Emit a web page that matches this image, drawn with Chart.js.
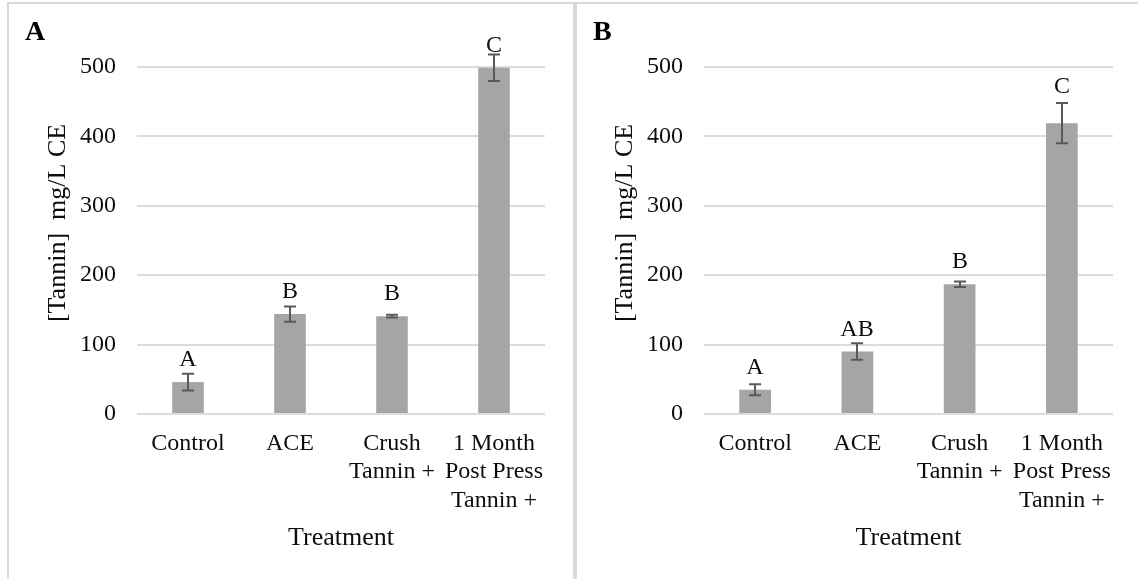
<!DOCTYPE html>
<html>
<head>
<meta charset="utf-8">
<script src="https://cdn.jsdelivr.net/npm/chart.js@4.4.1/dist/chart.umd.min.js"></script>
<style>
  html, body { margin: 0; padding: 0; background: #fff; }
  body { position: relative; width: 1138px; height: 579px; overflow: hidden; }
  .frame { position: absolute; top: 2px; height: 640px; border: 2px solid #d9d9d9; box-sizing: border-box; }
  #frameA { left: 7px; width: 568px; }
  #frameB { left: 575px; width: 600px; }
  .tag { position: absolute; top: 17px; font: bold 28px 'Liberation Serif', 'Times New Roman', serif; line-height: 28px; color: #000; }
  #tagA { left: 25px; }
  #tagB { left: 593px; }
  canvas { position: absolute; top: 4px; }
  #chartA { left: 9px; }
  #chartB { left: 577px; }
</style>
</head>
<body>
<div class="frame" id="frameA"></div>
<div class="frame" id="frameB"></div>
<canvas id="chartA" width="564" height="575"></canvas>
<canvas id="chartB" width="561" height="575"></canvas>
<div class="tag" id="tagA">A</div>
<div class="tag" id="tagB">B</div>
<script>
// Treatments on the x axis (multi-line labels)
const categories = [['Control'], ['ACE'], ['Crush', 'Tannin +'], ['1 Month', 'Post Press', 'Tannin +']];
const yTicks = [0, 100, 200, 300, 400, 500];

// Panel A: tannin concentration (mg/L CE), error and significance groups
const tanninA = [46, 144, 141, 499];
const errorA = [12, 11, 2, 19];
const lettersA = ['A', 'B', 'B', 'C'];

// Panel B
const tanninB = [35, 90, 187, 419];
const errorB = [8, 12, 4, 29];
const lettersB = ['A', 'AB', 'B', 'C'];

const yTitle = '[Tannin]  mg/L CE';
const xTitle = 'Treatment';

const SERIF = "'Liberation Serif', 'Times New Roman', serif";
const TEXT = '#0d0d0d';

// Error bars and group letters drawn over the bars
const errorBarPlugin = {
  id: 'errorBars',
  afterDatasetsDraw(chart, args, opts) {
    const ctx = chart.ctx;
    const meta = chart.getDatasetMeta(0);
    const y = chart.scales.y;
    const values = chart.data.datasets[0].data;
    ctx.save();
    ctx.strokeStyle = '#595959';
    ctx.lineWidth = 2;
    meta.data.forEach((bar, i) => {
      const v = values[i], e = opts.errors[i];
      const top = y.getPixelForValue(v + e);
      const bot = y.getPixelForValue(v - e);
      const x = Math.round(bar.x);
      ctx.beginPath();
      ctx.moveTo(x, top); ctx.lineTo(x, bot);
      ctx.moveTo(x - 6, top); ctx.lineTo(x + 6, top);
      ctx.moveTo(x - 6, bot); ctx.lineTo(x + 6, bot);
      ctx.stroke();
      // letter sits above the bar, lifted clear of the cap when they would touch
      let base = bar.y - 16;
      if (base > top - 2) base = top - 10;
      ctx.fillStyle = TEXT;
      ctx.font = '24px ' + SERIF;
      ctx.textAlign = 'center';
      ctx.textBaseline = 'alphabetic';
      ctx.fillText(opts.letters[i], x, base);
    });
    ctx.restore();
  }
};

// Axis titles
const axisTitlePlugin = {
  id: 'axisTitles',
  afterDraw(chart) {
    const ctx = chart.ctx;
    const a = chart.chartArea;
    ctx.save();
    ctx.fillStyle = TEXT;
    ctx.font = '26px ' + SERIF;
    ctx.textAlign = 'center';
    ctx.textBaseline = 'alphabetic';
    ctx.translate(a.left - 72, a.top + 156);
    ctx.rotate(-Math.PI / 2);
    ctx.fillText(yTitle, 0, 0);
    ctx.restore();
    ctx.save();
    ctx.fillStyle = TEXT;
    ctx.font = '26px ' + SERIF;
    ctx.textAlign = 'center';
    ctx.textBaseline = 'alphabetic';
    ctx.fillText(xTitle, (a.left + a.right) / 2, a.bottom + 131);
    ctx.restore();
  }
};

function makeChart(id, values, errors, letters, yWidth, padRight) {
  return new Chart(document.getElementById(id), {
    type: 'bar',
    data: {
      labels: categories,
      datasets: [{
        data: values,
        backgroundColor: '#a5a5a5',
        borderWidth: 0,
        barPercentage: 0.31,
        categoryPercentage: 1.0
      }]
    },
    options: {
      responsive: false,
      animation: false,
      devicePixelRatio: 1,
      layout: { padding: { top: 63, right: padRight, bottom: 0, left: 0 } },
      plugins: {
        legend: { display: false },
        tooltip: { enabled: false },
        errorBars: { errors: errors, letters: letters }
      },
      scales: {
        x: {
          grid: { display: false, drawTicks: false },
          border: { display: false },
          ticks: { color: TEXT, font: { family: SERIF, size: 24, lineHeight: 1.2 }, padding: 15, maxRotation: 0, autoSkip: false },
          afterFit(scale) { scale.height = 165; }
        },
        y: {
          min: yTicks[0],
          max: yTicks[yTicks.length - 1],
          afterBuildTicks(scale) { scale.ticks = yTicks.map(v => ({ value: v })); },
          grid: { color: '#dcdcdc', lineWidth: 2, drawTicks: false },
          border: { display: false },
          ticks: { color: TEXT, font: { family: SERIF, size: 24 }, padding: 21 },
          afterFit(scale) { scale.width = yWidth; }
        }
      }
    },
    plugins: [errorBarPlugin, axisTitlePlugin]
  });
}

makeChart('chartA', tanninA, errorA, lettersA, 128, 28);
makeChart('chartB', tanninB, errorB, lettersB, 127, 25);
</script>
</body>
</html>
